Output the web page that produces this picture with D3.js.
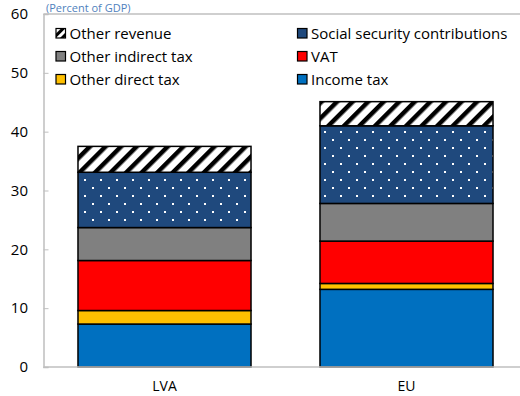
<!DOCTYPE html>
<html><head><meta charset="utf-8">
<script src="https://cdn.jsdelivr.net/npm/d3@7"></script>
<style>
html,body{margin:0;padding:0;background:#fff;overflow:hidden}
svg{display:block;font-family:"Open Sans","Noto Sans",sans-serif}
</style></head>
<body><svg id="chart" width="520" height="396"></svg>
<script>
const categories = ["LVA", "EU"];
const seriesNames = ["Income tax", "Other direct tax", "VAT", "Other indirect tax", "Social security contributions", "Other revenue"];
const incomeTax = [7.3, 13.2];
const otherDirectTax = [2.3, 1.0];
const vat = [8.5, 7.2];
const otherIndirectTax = [5.6, 6.4];
const socialSecurity = [9.4, 13.2];
const otherRevenue = [4.4, 4.1];
const yTicks = [0, 10, 20, 30, 40, 50, 60];
const legendOrder = ["Other revenue", "Social security contributions", "Other indirect tax", "VAT", "Other direct tax", "Income tax"];
const title = "(Percent of GDP)";

const seriesValues = [incomeTax, otherDirectTax, vat, otherIndirectTax, socialSecurity, otherRevenue];
const fills = {
  "Income tax": "#0070C0",
  "Other direct tax": "#FFC000",
  "VAT": "#FF0000",
  "Other indirect tax": "#808080",
  "Social security contributions": "url(#dots)",
  "Other revenue": "url(#stripes)"
};
const legendFills = Object.assign({}, fills, {"Social security contributions": "#1F497D", "Other revenue": "url(#stripesSmall)"});

const svg = d3.select("#chart");
const defs = svg.append("defs");
const dots = defs.append("pattern").attr("id", "dots").attr("patternUnits", "userSpaceOnUse")
  .attr("width", 16).attr("height", 16);
dots.append("rect").attr("width", 16).attr("height", 16).attr("fill", "#1F497D");
dots.append("rect").attr("x", 4).attr("y", 3).attr("width", 2).attr("height", 2).attr("fill", "#fff");
dots.append("rect").attr("x", 12).attr("y", 11).attr("width", 2).attr("height", 2).attr("fill", "#fff");

const stripes = defs.append("pattern").attr("id", "stripes").attr("patternUnits", "userSpaceOnUse")
  .attr("width", 11).attr("height", 11).attr("patternTransform", "rotate(45)");
stripes.append("rect").attr("width", 11).attr("height", 11).attr("fill", "#fff");
stripes.append("rect").attr("width", 4.5).attr("height", 11).attr("fill", "#000");

const stripesS = defs.append("pattern").attr("id", "stripesSmall").attr("patternUnits", "userSpaceOnUse")
  .attr("width", 6).attr("height", 6).attr("patternTransform", "rotate(45)");
stripesS.append("rect").attr("width", 6).attr("height", 6).attr("fill", "#fff");
stripesS.append("rect").attr("width", 3).attr("height", 6).attr("fill", "#000");

const m = {left: 43.5, right: 527.5, top: 14, bottom: 367};
const x = d3.scaleBand().domain(categories).range([m.left, m.right]).paddingInner(0.285).paddingOuter(0.1425);
const y = d3.scaleLinear().domain([0, 60]).range([m.bottom, m.top]);

// title
svg.append("text").attr("x", 46).attr("y", 11.5).attr("fill", "#4F81BD").attr("font-size", 11).text(title);

// plot frame: top line
svg.append("line").attr("x1", m.left).attr("x2", 520).attr("y1", m.top).attr("y2", m.top)
  .attr("stroke", "#BFBFBF").attr("stroke-width", 1.5);

// stacked data
const table = categories.map((c, i) => {
  const o = {cat: c};
  seriesNames.forEach((s, j) => o[s] = seriesValues[j][i]);
  return o;
});
const stack = d3.stack().keys(seriesNames)(table);

svg.append("g").selectAll("g").data(stack).join("g")
  .attr("fill", d => fills[d.key])
  .selectAll("rect").data(d => d).join("rect")
  .attr("x", d => x(d.data.cat))
  .attr("width", x.bandwidth())
  .attr("y", d => y(d[1]))
  .attr("height", d => y(d[0]) - y(d[1]))
  .attr("stroke", "#000").attr("stroke-width", 1.5);

// y axis
const yAxis = d3.axisLeft(y).tickValues(yTicks).tickSize(-5).tickPadding(0).tickFormat(d3.format("d"));
const gy = svg.append("g").attr("transform", `translate(${m.left},0)`).call(yAxis);
gy.select(".domain").attr("stroke", "#BFBFBF").attr("stroke-width", 1.5);
gy.selectAll(".tick line").attr("stroke", "#BFBFBF").attr("stroke-width", 1);
gy.selectAll(".tick text").attr("x", -15.5).attr("font-size", 15).attr("fill", "#000")
  .attr("font-family", "'Open Sans', sans-serif");

// x axis
const xAxis = d3.axisBottom(x).tickSize(0).tickPadding(0);
const gx = svg.append("g").attr("transform", `translate(0,${m.bottom})`).call(xAxis);
gx.select(".domain").attr("d", `M${m.left},0H520`).attr("stroke", "#BFBFBF").attr("stroke-width", 1.5);
gx.selectAll(".tick text").attr("dy", 0).attr("y", 24).attr("font-size", 14).attr("fill", "#000")
  .attr("font-family", "'Open Sans', sans-serif");

// legend
const legCols = [56, 297.5];
const legRows = [33.5, 56.5, 79.5];
const leg = svg.append("g").selectAll("g").data(legendOrder).join("g")
  .attr("transform", (d, i) => `translate(${legCols[i % 2]},${legRows[Math.floor(i / 2)]})`);
leg.append("rect").attr("x", 0).attr("y", -5).attr("width", 9.5).attr("height", 9.5)
  .attr("fill", d => legendFills[d]).attr("stroke", "#000").attr("stroke-width", 1.2);
leg.append("text").attr("x", 13.5).attr("y", 5.5).attr("font-size", 15).attr("fill", "#000").text(d => d);
</script></body></html>
